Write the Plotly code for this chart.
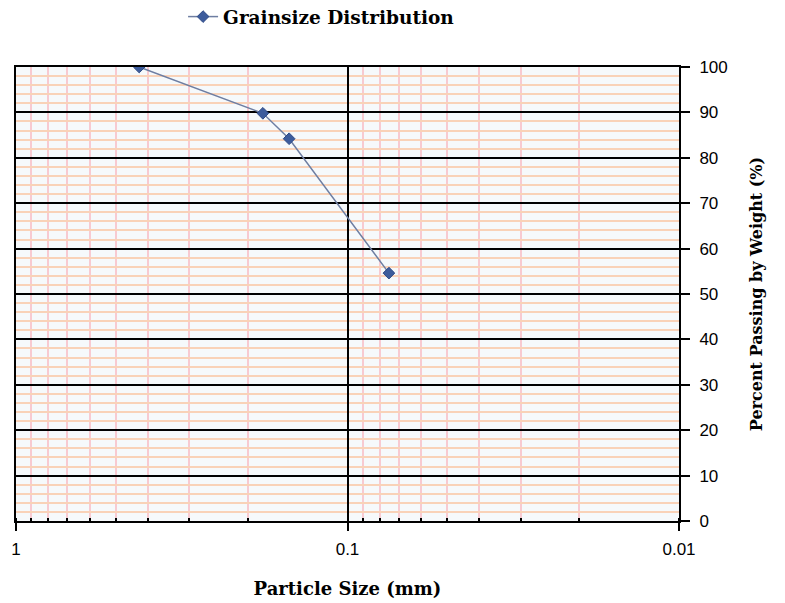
import plotly.graph_objects as go

# Sieve analysis results
particle_size_mm = [0.425, 0.18, 0.15, 0.075]
percent_passing = [100, 89.8, 84.2, 54.6]
series_name = "Grainsize Distribution"

x_ticks = [1, 0.1, 0.01]
x_tick_text = ["1", "0.1", "0.01"]
y_ticks = list(range(0, 101, 10))

serif = "DejaVu Serif"
sans = "Liberation Sans"

fig = go.Figure()
fig.add_trace(go.Scatter(
    x=particle_size_mm,
    y=percent_passing,
    mode="lines+markers",
    name=series_name,
    line=dict(color="#6E7EA2", width=1.5),
    marker=dict(symbol="diamond", size=9, color="#3D5C9C",
                line=dict(color="#2E4A86", width=1)),
))

fig.update_layout(
    width=785, height=603,
    margin=dict(l=16, r=106, t=67, b=82, autoexpand=False),
    paper_bgcolor="white",
    plot_bgcolor="#F6F9FB",
    showlegend=True,
    legend=dict(
        x=0.252, y=1.11, xanchor="left", yanchor="middle",
        orientation="h",
        font=dict(family=serif, size=18.5, color="black", weight="bold"),
        bgcolor="rgba(0,0,0,0)",
    ),
)

fig.update_xaxes(
    type="log",
    range=[0, -2],
    tickvals=x_ticks,
    ticktext=x_tick_text,
    tickfont=dict(family=sans, size=17, color="black"),
    ticks="outside", ticklen=8, tickwidth=2, tickcolor="black",
    ticklabelstandoff=4,
    showline=True, linecolor="black", linewidth=2, mirror=True,
    showgrid=True, gridcolor="black", gridwidth=2,
    minor=dict(dtick="D1", showgrid=True, gridcolor="#F8CAD1", gridwidth=1.5,
               ticks="inside", ticklen=3, tickcolor="black"),
    zeroline=False,
    title=dict(text="Particle Size (mm)", standoff=24,
               font=dict(family=serif, size=18, color="black", weight="bold")),
)

fig.update_yaxes(
    side="right",
    range=[0, 100],
    tickvals=y_ticks,
    tickfont=dict(family=sans, size=17, color="black"),
    ticks="outside", ticklen=9, tickwidth=2, tickcolor="black",
    ticklabelstandoff=6,
    showline=True, linecolor="black", linewidth=2, mirror=True,
    showgrid=True, gridcolor="black", gridwidth=2,
    minor=dict(dtick=2, showgrid=True, gridcolor="#F9D2B8", gridwidth=2),
    zeroline=False,
    title=dict(text="Percent Passing by Weight (%)", standoff=24,
               font=dict(family=serif, size=16, color="black", weight="bold")),
)

fig.write_html("out.html")
